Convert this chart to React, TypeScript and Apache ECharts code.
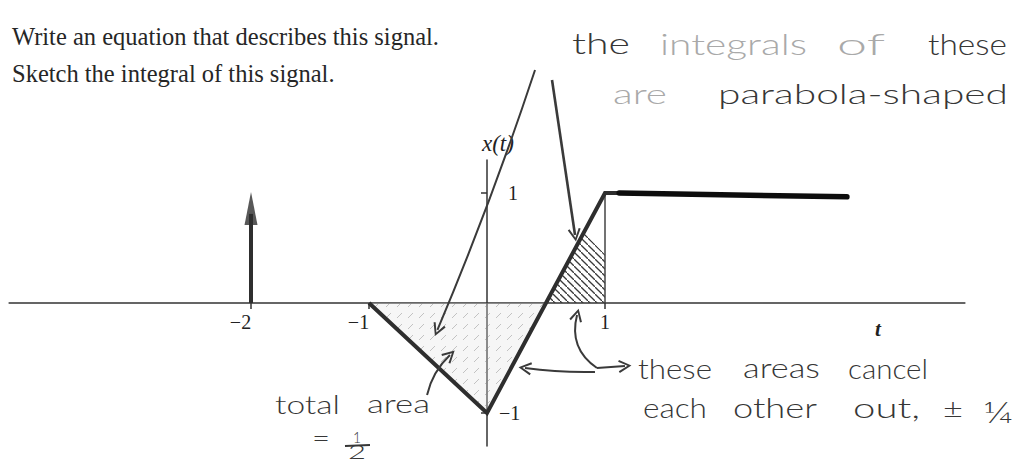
import React, { useEffect, useRef } from "react";
import * as echarts from "echarts";

// ---- data (signal x(t)) ----
const signalT = [-1, 0, 1, 1.12];
const signalV = [0, -1, 1, 1];
const extensionT = [1.12, 3.05];
const extensionV = [1, 0.965];
const impulseT = [-2];
const impulseV = [1.01];
const guideT = [1, 1];
const guideV = [0, 1];

// shaded regions
const leftHatchT = [-1, 0, 0.5];
const leftHatchV = [0, -1, 0];
const rightHatchT = [0.5, 0.82, 1, 1];
const rightHatchV = [0, 0.64, 0.44, 0];

// ticks and labels
const xTickValues = [-2, -1, 1];
const xLabelValues = [-2, -1, 1];
const yTickValues = [-1, 1];
const yLabelValues = [-1, 1];

// hand-drawn annotation arrows (data coordinates: [t, x])
const arrowA = [[0.407, 2.118], [-0.42, -0.245]];
const arrowB = [[0.551, 2.027], [0.746, 0.618]];
const arrowC = [[-0.508, -0.836], [-0.314, -0.473]];
const arrowD = [[0.915, -0.627], [0.322, -0.591]];
const arrowE1 = [[0.932, -0.591], [0.763, -0.109]];
const arrowE2 = [[0.932, -0.591], [1.169, -0.573]];

const SERIF = '"Liberation Serif", "DejaVu Serif", serif';
const HAND = '"Lato", "Open Sans", sans-serif';

const zip = (a: number[], b: number[]) => a.map((v, i) => [v, b[i]]);

let ctx2d: CanvasRenderingContext2D | null = null;
function measure(text: string, font: string): number {
  if (!ctx2d) ctx2d = document.createElement("canvas").getContext("2d");
  if (!ctx2d) return text.length * 10;
  ctx2d.font = font;
  return ctx2d.measureText(text).width || 1;
}

function hw(text: string, x1: number, x2: number, baseline: number, size: number, fill: string) {
  const w = measure(text, `300 ${size}px ${HAND}`);
  return {
    type: "text",
    x: x1,
    y: baseline - 0.36 * size,
    scaleX: (x2 - x1) / w,
    style: {
      text,
      fill,
      fontFamily: HAND,
      fontWeight: 300,
      fontSize: size,
      align: "left",
      verticalAlign: "middle",
    },
  };
}

function printed(text: string, x: number, baseline: number, size: number) {
  return {
    type: "text",
    x,
    y: baseline - 0.34 * size,
    style: {
      text,
      fill: "#262626",
      fontFamily: SERIF,
      fontSize: size,
      align: "left",
      verticalAlign: "middle",
    },
  };
}

function makePattern(kind: "left" | "right") {
  const c = document.createElement("canvas");
  const g = c.getContext("2d")!;
  if (kind === "left") {
    c.width = 11;
    c.height = 11;
    g.fillStyle = "rgba(225,225,225,0.3)";
    g.fillRect(0, 0, 11, 11);
    g.strokeStyle = "rgba(130,130,130,0.45)";
    g.lineWidth = 1;
    g.beginPath();
    g.moveTo(1, 10);
    g.lineTo(6, 5);
    g.stroke();
    return { image: c, repeat: "repeat", imageWidth: 11, imageHeight: 11 };
  }
  c.width = 7;
  c.height = 7;
  g.strokeStyle = "#3a3a3a";
  g.lineWidth = 1.3;
  g.beginPath();
  g.moveTo(-1, -1);
  g.lineTo(8, 8);
  g.stroke();
  return { image: c, repeat: "repeat", imageWidth: 7, imageHeight: 7 };
}

const CHEVRON = "path://M5,0 L10,10 L8.6,10.8 L5,3.2 L1.4,10.8 L0,10 Z";
const TRIANGLE = "path://M5,0 L10,30 L0,30 Z";
const DARK = "#363636";
const FAINT = "#a9a9a9";
const LABEL_SIZE = 20;

// grid geometry (pixels)
const GRID_LEFT = 9.1;
const GRID_RIGHT = 59.1;
const GRID_TOP = 160;
const GRID_BOTTOM = 18;
const X_MIN = -4.05;
const X_MAX = 4.05;
const Y_MIN = -1.3;
const Y_MAX = 1.3;

export default function App() {
  const ref = useRef<HTMLDivElement>(null);

  useEffect(() => {
    if (!ref.current) return;
    const chart = echarts.init(ref.current, undefined, { renderer: "svg" });
    const W = 1024;
    const H = 464;
    const plotW = W - GRID_LEFT - GRID_RIGHT;
    const plotH = H - GRID_TOP - GRID_BOTTOM;
    const zeroX = GRID_LEFT + ((0 - X_MIN) / (X_MAX - X_MIN)) * plotW;
    const zeroY = GRID_TOP + ((Y_MAX - 0) / (Y_MAX - Y_MIN)) * plotH;
    const xOffset = -(H - GRID_BOTTOM - zeroY);
    const yOffset = -(zeroX - GRID_LEFT);

    const graphic: any[] = [
      printed("Write an equation that describes this signal.", 12, 45, 24.5),
      printed("Sketch the integral of this signal.", 12, 82, 24.5),
      // top-right handwriting
      hw("the", 572, 630, 54, 30, DARK),
      hw("integrals", 660, 807, 54, 30, FAINT),
      hw("of", 837, 885, 54, 30, FAINT),
      hw("these", 928, 1007, 54, 30, DARK),
      hw("are", 613, 667, 103, 27, FAINT),
      hw("parabola-shaped", 718, 1008, 103, 27, DARK),
      // bottom-right handwriting
      hw("these", 638, 712, 378, 27, DARK),
      hw("areas", 743, 820, 378, 27, DARK),
      hw("cancel", 848, 928, 378, 27, DARK),
      hw("each", 643, 707, 417, 27, DARK),
      hw("other", 733, 817, 417, 27, DARK),
      hw("out,", 853, 920, 417, 27, DARK),
      hw("±", 943, 963, 417, 27, DARK),
      hw("¼", 983, 1013, 422, 30, DARK),
      // bottom-left handwriting
      hw("total", 275, 340, 413, 26, DARK),
      hw("area", 367, 430, 413, 26, DARK),
      hw("=", 312, 330, 447, 28, DARK),
      hw("1", 353, 361, 442, 16, DARK),
      {
        type: "line",
        shape: { x1: 345, y1: 446, x2: 370, y2: 445 },
        style: { stroke: DARK, lineWidth: 1.8 },
      },
      hw("2", 348, 366, 459, 20, DARK),
    ];

    const arrowLine = (coords: number[][], curveness: number, width = 2) => ({
      coords,
      lineStyle: { curveness, width },
    });

    const richLabel = { fontFamily: SERIF, fontSize: LABEL_SIZE, color: "#222" };

    chart.setOption({
      animation: false,
      backgroundColor: "#ffffff",
      grid: {
        left: GRID_LEFT,
        right: GRID_RIGHT,
        top: GRID_TOP,
        bottom: GRID_BOTTOM,
        containLabel: false,
        outerBoundsMode: "none",
      },
      xAxis: {
        type: "value",
        position: "bottom",
        offset: xOffset,
        min: X_MIN,
        max: X_MAX,
        name: "t",
        nameLocation: "end",
        nameGap: -90,
        nameTextStyle: {
          fontFamily: SERIF,
          fontStyle: "italic",
          fontWeight: "bold",
          fontSize: 21,
          color: "#222",
          verticalAlign: "top",
          align: "left",
          padding: [15, 0, 0, 0],
        },
        axisLine: { onZero: false, lineStyle: { color: "#333", width: 1.5 } },
        axisTick: { show: true, customValues: xTickValues, length: 6, lineStyle: { color: "#333", width: 1.5 } },
        splitLine: { show: false },
        axisLabel: {
          customValues: xLabelValues,
          margin: 9,
          color: "#222",
          fontFamily: SERIF,
          fontSize: LABEL_SIZE,
          formatter: (v: number) => (v < 0 ? `{neg|−${-v}}` : `{pos|${v}}`),
          rich: {
            neg: { ...richLabel, padding: [0, 21, 0, 0] },
            pos: { ...richLabel },
          },
        },
      },
      yAxis: {
        type: "value",
        position: "left",
        offset: yOffset,
        min: Y_MIN,
        max: Y_MAX,
        name: "x(t)",
        nameLocation: "end",
        nameGap: 5,
        nameTextStyle: {
          fontFamily: SERIF,
          fontStyle: "italic",
          fontSize: 23,
          color: "#222",
          align: "left",
          padding: [0, 0, 0, -5],
        },
        axisLine: { onZero: false, lineStyle: { color: "#333", width: 1.5 } },
        axisTick: { show: true, customValues: yTickValues, length: 6, lineStyle: { color: "#333", width: 1.5 } },
        splitLine: { show: false },
        axisLabel: {
          customValues: yLabelValues,
          inside: true,
          margin: 12,
          color: "#222",
          fontFamily: SERIF,
          fontSize: LABEL_SIZE,
          formatter: (v: number) => (v < 0 ? `{neg|−${-v}}` : `{pos|${v}}`),
          rich: {
            neg: { ...richLabel },
            pos: { ...richLabel, padding: [0, 0, 0, 9] },
          },
        },
      },
      series: [
        {
          name: "left shading",
          type: "line",
          data: zip(leftHatchT, leftHatchV),
          symbol: "none",
          lineStyle: { width: 0, opacity: 0 },
          areaStyle: { color: makePattern("left") as any, opacity: 1 },
          silent: true,
          z: 1,
        },
        {
          name: "right shading",
          type: "line",
          data: zip(rightHatchT, rightHatchV),
          symbol: "none",
          lineStyle: { width: 0, opacity: 0 },
          areaStyle: { color: makePattern("right") as any, opacity: 1 },
          silent: true,
          z: 1,
        },
        {
          name: "guide",
          type: "line",
          data: zip(guideT, guideV),
          symbol: "none",
          lineStyle: { color: "#444", width: 1.5 },
          z: 2,
        },
        {
          name: "x(t)",
          type: "line",
          data: zip(signalT, signalV),
          symbol: "none",
          lineStyle: { color: "#2e2e2e", width: 4, join: "miter" },
          z: 5,
        },
        {
          name: "extension",
          type: "line",
          data: zip(extensionT, extensionV),
          symbol: "none",
          lineStyle: { color: "#0d0d0d", width: 5.5, cap: "round" },
          z: 5,
        },
        {
          name: "impulse stem",
          type: "line",
          data: [
            [impulseT[0], 0],
            [impulseT[0], impulseV[0] - 0.2],
          ],
          symbol: "none",
          lineStyle: { color: "#2e2e2e", width: 4 },
          z: 5,
        },
        {
          name: "impulse head",
          type: "scatter",
          data: zip(impulseT, impulseV),
          symbol: TRIANGLE,
          symbolSize: [13, 33],
          symbolOffset: [0, "50%"],
          itemStyle: { color: "#2e2e2e" },
          z: 6,
        },
        {
          name: "annotations",
          type: "lines",
          coordinateSystem: "cartesian2d",
          clip: false,
          symbol: ["none", CHEVRON],
          symbolSize: 13,
          lineStyle: { color: "#3a3a3a", width: 2, opacity: 1 },
          data: [
            arrowLine(arrowA, 0.02, 2),
            arrowLine(arrowB, 0.0, 2.6),
            arrowLine(arrowC, 0.15, 2),
            arrowLine(arrowD, 0.04, 2),
            arrowLine(arrowE1, 0.35, 2),
            arrowLine(arrowE2, 0.0, 2),
          ],
          z: 7,
        },
      ],
      graphic,
    });

    return () => chart.dispose();
  }, []);

  return (
    <div
      ref={ref}
      style={{ position: "absolute", left: 0, top: 0, width: 1024, height: 464, background: "#fff" }}
    />
  );
}
